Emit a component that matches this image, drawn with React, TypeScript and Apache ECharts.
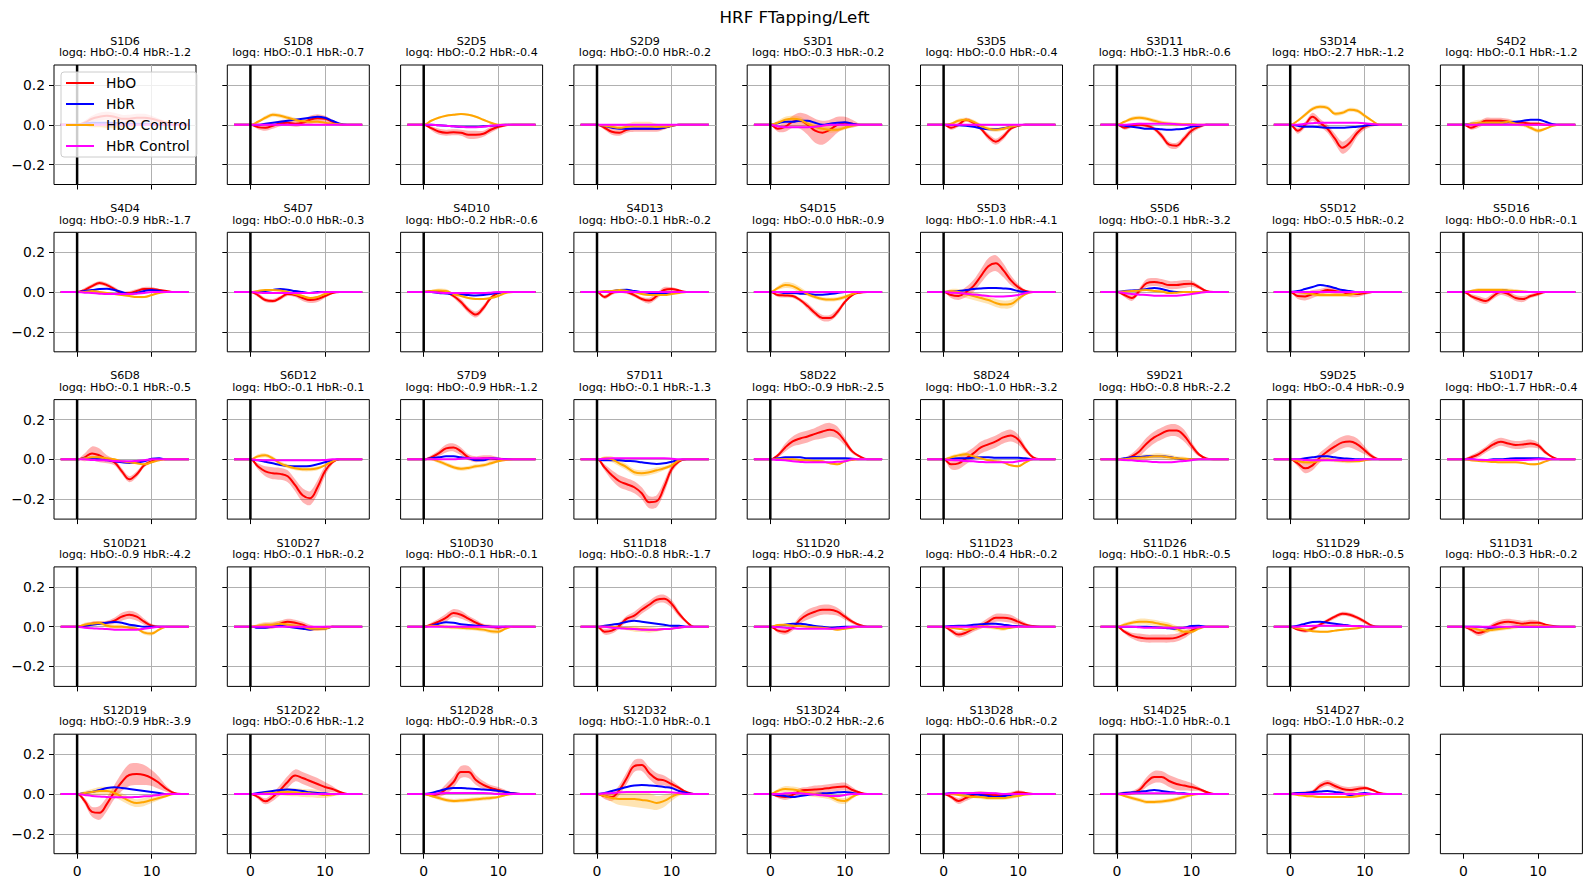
import React, { useEffect, useRef } from 'react';
import * as echarts from 'echarts';

// Time grid (s) shared by every channel trace
const T = [-2.2, -1, 0, 1, 2, 3, 4, 5, 6, 7, 8, 9, 10, 11, 12, 13, 14, 15];
// Amplitudes below are listed in hundredths of the y-axis unit
const UNIT = 0.01;

const CHANNELS = [
  'S1D6', 'S1D8', 'S2D5', 'S2D9', 'S3D1', 'S3D5', 'S3D11', 'S3D14', 'S4D2',
  'S4D4', 'S4D7', 'S4D10', 'S4D13', 'S4D15', 'S5D3', 'S5D6', 'S5D12', 'S5D16',
  'S6D8', 'S6D12', 'S7D9', 'S7D11', 'S8D22', 'S8D24', 'S9D21', 'S9D25', 'S10D17',
  'S10D21', 'S10D27', 'S10D30', 'S11D18', 'S11D20', 'S11D23', 'S11D26', 'S11D29', 'S11D31',
  'S12D19', 'S12D22', 'S12D28', 'S12D32', 'S13D24', 'S13D28', 'S14D25', 'S14D27',
];

const LOGQ_HBO = [
  '-0.4', '-0.1', '-0.2', '-0.0', '-0.3', '-0.0', '-1.3', '-2.7', '-0.1',
  '-0.9', '-0.0', '-0.2', '-0.1', '-0.0', '-1.0', '-0.1', '-0.5', '-0.0',
  '-0.1', '-0.1', '-0.9', '-0.1', '-0.9', '-1.0', '-0.8', '-0.4', '-1.7',
  '-0.9', '-0.1', '-0.1', '-0.8', '-0.9', '-0.4', '-0.1', '-0.8', '-0.3',
  '-0.9', '-0.6', '-0.9', '-1.0', '-0.2', '-0.6', '-1.0', '-1.0',
];
const LOGQ_HBR = [
  '-1.2', '-0.7', '-0.4', '-0.2', '-0.2', '-0.4', '-0.6', '-1.2', '-1.2',
  '-1.7', '-0.3', '-0.6', '-0.2', '-0.9', '-4.1', '-3.2', '-0.2', '-0.1',
  '-0.5', '-0.1', '-1.2', '-1.3', '-2.5', '-3.2', '-2.2', '-0.9', '-0.4',
  '-4.2', '-0.2', '-0.1', '-1.7', '-4.2', '-0.2', '-0.5', '-0.5', '-0.2',
  '-3.9', '-1.2', '-0.3', '-0.1', '-2.6', '-0.2', '-0.1', '-0.2',
];

const FLAT = [0, 0, 0, 0, 0, 0, 0, 0, 0, 0, 0, 0, 0, 0, 0, 0, 0, 0];

const HBO = [
  [0,0,0,1,3,4,4.5,4,3,3,3.5,3.5,3,2,1,0,0,0],
  [0,0,0,-1.2,-1.5,-0.5,0.8,1,0.5,1,2.5,3.3,3,1.5,0.3,0,0,0],
  [0,0,0,-1.7,-3.4,-4,-3.8,-4,-5,-5,-4.5,-2.5,-1,-0.2,0,0,0,0],
  [0,0,0,-1.5,-3.5,-4,-2.5,-2,-2,-2,-2,-1.5,-0.5,0,0,0,0,0],
  [0,0,0,-2,-1,1.5,2,0,-3,-4,-2.5,0,1,0.5,0,0,0,0],
  [0,0,0,-1.5,0,2.5,1,-2,-6,-8.5,-6,-2,-0.5,0,0,0,0,0],
  [0,0,0,-1.5,-0.5,0,-0.5,-2,-5.5,-10,-10.5,-7,-3,-1,0,0,0,0],
  [0,0,0,-3,0,4,1,-2,-7,-11.5,-9,-4,-1,0,0,0,0,0],
  [0,0,0,-1.5,0,2,2,2,1.5,1,1,0.5,0.5,0,0,0,0,0],
  [0,0,0,1,3,4.5,3.5,1.5,-0.5,-0.5,0.5,1.5,1.5,1,0.5,0,0,0],
  [0,0,0,-1.5,-4,-4.5,-3,-1,-1.5,-3,-4,-3.5,-2,-0.5,0,0,0,0],
  [0,0,0,0.5,0.5,0,-2,-5,-9,-11.3,-8,-3,-0.5,0,0,0,0,0],
  [0,0,0,-2.5,-0.5,0.5,0,-1.5,-3.5,-4.3,-2,1,1.5,0.8,0,0,0,0],
  [0,0,0,-1.5,-1.7,-2,-4,-7,-10.5,-13,-13,-10,-5,-1.5,-0.3,0,0,0],
  [0,0,0,-1.5,-2,0,3,8,13,14.5,11,6,2.5,0.5,0,0,0,0],
  [0,0,0,-1.5,-3,0.5,4.5,5,4.5,3.5,3.5,4,4.2,2.5,0.5,0,0,0],
  [0,0,0,-2,-2.2,-1,0,1,0.5,0,-1,-1,-0.5,0,0,0,0,0],
  [0,0,0,-2,-3.5,-4.5,-2,0,-1,-3,-3.5,-2,-1,0,0,0,0,0],
  [0,0,0,1,3,2,0,-1.5,-6,-10,-7.5,-3,-1,0,0,0,0,0],
  [0,0,0,-3.5,-6,-7,-7.3,-8.5,-13,-18,-19.5,-14,-6,-1.5,0,0,0,0],
  [0,0,0,1,3,5.5,6,4,1,0,0.5,0.5,0,0,0,0,0,0],
  [0,0,0,-4,-8,-11,-12.5,-14,-17,-21.5,-21,-14,-5,-1,0,0,0,0],
  [0,0,0,2,6,9,10.5,11.5,12.8,14,14.8,13.5,9,4,1.5,0,0,0],
  [0,0,0,-2.5,-2,0.5,3,6,7.5,9,11,12,10,5,1,0,0,0],
  [0,0,0,0,1.5,4,8,11,13,14.5,14.5,12,7,2.5,0.5,0,0,0],
  [0,0,0,-2,-4.5,-3,1,4,6.5,8.5,9,7.5,4.5,1.5,0,0,0,0],
  [0,0,0,1,2.5,5,7.5,8.8,8,7.2,7.5,8,7,3.5,1,0,0,0],
  [0,0,0,0.5,1.5,1.8,2,3,5,6,5,2.5,0.5,0,0,0,0,0],
  [0,0,0,0,0.3,0.5,1.5,2.5,2,1,-0.5,-1,-0.5,0,0,0,0,0],
  [0,0,0,1,2.5,4.5,6.8,6,4,2,0.5,0,-0.5,0,0,0,0,0],
  [0,0,0,-2.5,-2,0.5,4,5.5,8.5,11,13.5,14,11.5,6.5,2.5,0,0,0],
  [0,0,0,-2,-2.5,-0.5,3.5,6,7.5,8.5,8.5,7.5,5,2.5,0.8,0,0,0],
  [0,0,0,-2,-4,-3,-1,0.5,2.5,4.5,4.5,4,2.5,1,0.3,0,0,0],
  [0,0,0,-2.5,-4.5,-5.5,-6,-6,-6,-6,-5.5,-4,-2,-0.5,0,0,0,0],
  [0,0,0,-1.5,-2,-1,1,3,5,6.5,6,4.5,2.5,0.5,0,0,0,0],
  [0,0,0,-1.5,-3.2,-2,0.5,2,2.5,2,1.5,2,2,1,0.3,0,0,0],
  [0,0,0,-3.5,-9,-9.5,-5,1,6,9.5,10,9.5,8,5.5,2.5,0.5,0,0],
  [0,0,0,-1.5,-3.7,-1.5,2,6,9.3,8,6.5,5,3.5,2.5,1,0,0,0],
  [0,0,0,-0.5,0,2.5,6,11,11,7,4.5,3,2,1,0.3,0,0,0],
  [0,0,0,-1,-1.5,2,8,14,14.5,10.5,7.5,6.8,5,3,1,0,0,0],
  [0,0,0,-1,-1.5,-0.5,1.5,2,2.2,2.5,3,3.5,3.7,2,0.7,0,0,0],
  [0,0,0,-1.5,-3.5,-2,-0.5,0,-0.5,-0.5,-0.5,0,0.8,0.5,0,0,0,0],
  [0,0,0,0.3,0.5,2,6,8.5,8.5,6.5,5,4.2,3.5,2.5,1,0,0,0],
  [0,0,0,0.5,0.5,1,4,5.5,4,2.5,2,2.5,3,2,0.5,0,0,0],
];

const HBR = [
  [0,0,0,0.5,1,1,1,1,0.5,0.5,0.5,0.5,0.5,0,0,0,0,0],
  [0,0,0,0,0.5,1,1.5,2,2.5,3,3.5,4,3.5,2,0.5,0,0,0],
  [0,0,0,0,-0.3,-0.5,-0.8,-1,-1,-1,-0.8,-0.5,-0.2,0,0,0,0,0],
  [0,0,0,-0.5,-1.5,-2,-2,-2,-2,-2,-2,-1.5,-0.5,0,0,0,0,0],
  [0,0,0,0.8,1.5,1.5,2,2,1,0,0.5,1,1.2,0.5,0,0,0,0],
  [0,0,0,0,-0.3,-0.5,-1,-1.8,-2.2,-2.2,-1.8,-1,-0.3,0,0,0,0,0],
  [0,0,0,-0.5,-1,-1.5,-2,-2,-2.3,-2.5,-2.3,-2,-1,-0.5,0,0,0,0],
  [0,0,0,-0.5,-1,-1,-1.2,-1.5,-1.5,-1.5,-1.2,-1,-0.5,0,0,0,0,0],
  [0,0,0,0.5,0.5,0.5,0.5,1,1.2,1.5,2,2.5,2.5,1.5,0.3,0,0,0],
  [0,0,0,0.5,1,1.5,1.7,1,0,-1,-0.5,0.5,1,0.5,0,0,0,0],
  [0,0,0,0,0.5,1,1.5,1.2,0.5,0,-0.5,0,0,0,0,0,0,0],
  [0,0,0,0,-0.5,-0.7,-1,-1.2,-1.5,-1.7,-1.5,-1,-0.3,0,0,0,0,0],
  [0,0,0,0,0.5,1,1.2,0.5,0,-0.5,-1,-0.8,-0.3,0,0,0,0,0],
  [0,0,0,0,-0.5,-0.5,-0.8,-1,-1.3,-1.3,-1,-0.5,0,0,0,0,0,0],
  [0,0,0,0.3,0.5,1,1.5,1.8,2,2,1.8,1.5,0.5,0,0,0,0,0],
  [0,0,0,0.5,0.8,1,1.5,2,1.5,0.5,0,0,0,0,0,0,0,0],
  [0,0,0,0.5,1.5,2.5,3.5,3,2,1,0.5,0,0,0,0,0,0,0],
  [0,0,0,0,0.5,0.5,1,1,0.5,0,0,0,0,0,0,0,0,0],
  [0,0,0,0.5,0.3,0,-0.5,-1,-1.5,-1.8,-1.5,-1,0.3,0.5,0,0,0,0],
  [0,0,0,-0.5,-1.2,-2,-2.8,-3.3,-3.5,-3.5,-3.3,-2.5,-1.5,-0.5,0,0,0,0],
  [0,0,0,0.5,1,1.5,1.5,1,0.5,-0.5,-0.5,0.5,0.3,0,0,0,0,0],
  [0,0,0,-0.5,-0.5,-0.5,-0.8,-1,-1.5,-2,-2.3,-2,-1.2,-0.3,0,0,0,0],
  [0,0,0,0.5,1,1,1,0.5,0.5,0.5,0.5,0.5,0.5,0.3,0,0,0,0],
  [0,0,0,0.3,0.5,0.5,0.8,1,1,0.8,0.8,0.8,0.8,0.5,0,0,0,0],
  [0,0,0,0.5,1,1.2,1.5,1.5,1.5,1.2,0.5,0,0,0,0,0,0,0],
  [0,0,0,0,0.5,1,1.5,1.5,1,0.5,0.3,0,0,0,0,0,0,0],
  [0,0,0,0,-0.3,-0.3,0,0,0.3,0.5,0.5,0.5,0.5,0.3,0,0,0,0],
  [0,0,0,0.5,1,1.5,2,2.3,2,1,0.5,0,0,0,0,0,0,0],
  [0,0,0,-0.5,-0.5,0,0.5,0,-0.5,-1,-1.5,-1,-1,0,0,0,0,0],
  [0,0,0,0.5,1.5,2.2,2,1.2,0.8,0.5,0.3,0,0,0,0,0,0,0],
  [0,0,0,0.5,1,1.5,2.5,3,2.5,2,1.5,1,0.5,0.5,0,0,0,0],
  [0,0,0,0.5,1,1.5,1.5,1,0.3,0,-0.5,-0.3,0,0,0,0,0,0],
  [0,0,0,0.3,0.5,0.5,1,1.2,1.5,1.5,1,0.5,0.3,0,0,0,0,0],
  [0,0,0,0,0,0,0,-0.3,-0.5,-0.8,-1,-0.5,0.3,0.5,0,0,0,0],
  [0,0,0,0.5,1.5,2.3,2.5,2,1.5,1,0.5,0.3,0,0,0,0,0,0],
  [0,0,0,0,0,-0.3,-0.5,-0.5,-0.3,0,0,0,0,0,0,0,0,0],
  [0,0,0,0.5,1,2,3,3.4,3,2.5,2,1.5,1,0.5,0,0,0,0],
  [0,0,0,0.5,1,1.5,2,2.2,2,1.5,0.8,0.5,0.3,0,0,0,0,0],
  [0,0,0,0.5,1.5,2.5,3,3,2.7,2.5,2.2,2,1.5,1,0.3,0,0,0],
  [0,0,0,0.5,1.5,2.5,3.5,4.2,4.5,4.3,4,3.5,3,1.5,0.5,0,0,0],
  [0,0,0,-0.5,-1,-1.5,-1,-0.5,0,0.3,0.5,0.8,1,0.5,0,0,0,0],
  [0,0,0,0.5,0.5,0.3,0,-0.5,-1,-1.5,-1.2,-0.5,0,0,0,0,0,0],
  [0,0,0,0.5,0.8,1,1.5,2,1.5,1,0.5,0.3,0,0,0,0,0,0],
  [0,0,0,0.5,0.5,1,1.2,1.5,1,0.5,-0.5,0,0.5,0,0,0,0,0],
];

const HBO_CTRL = [
  [0,0,0,0,-0.5,-0.5,-1,-1,-0.5,-0.5,0,0,0,0,0,0,0,0],
  [0,0,0,1.5,3.5,5,4.5,3.5,2.5,1.7,1.5,1.5,1,0.5,0.2,0,0,0],
  [0,0,0,2,3.5,4.5,5,5.4,5,4,2.5,1,0,0,0,0,0,0],
  [0,0,0,-0.5,-1,-1.5,-1,-0.5,-0.5,-0.5,-1,-1,-0.5,0,0,0,0,0],
  [0,0,0,1,2.5,3,2.5,0.5,-1,-2,-2.5,-2.5,-1.5,-0.5,0,0,0,0],
  [0,0,0,0.5,2,2.5,1.5,-0.5,-2,-2.5,-2,-1,-0.3,0,0,0,0,0],
  [0,0,0,1.5,3,3.5,3,2,1,0.5,0.3,0.3,0.3,0,0,0,0,0],
  [0,0,0,2,5,8,9,8.5,5.5,6,7.5,7,4.5,2,0,0,0,0],
  [0,0,0,0.5,1,1,1,1,1.5,0.5,0,-1.5,-3,-2,-0.5,0,0,0],
  [0,0,0,0,0.5,0,-0.5,-1,-1.5,-2,-2.5,-2.5,-1.5,-0.5,0,0,0,0],
  [0,0,0,0.5,1,1,0.8,0,-1,-2,-3,-2.5,-1,0,0,0,0,0],
  [0,0,0,0.5,0.8,0.5,-1,-2,-3,-3.5,-3.5,-3,-2,-0.5,0,0,0,0],
  [0,0,0,0.5,0.5,1,0.5,0,-1,-1.5,-1.5,-1.5,-1,-0.5,0,0,0,0],
  [0,0,0,2,3.5,3,1,-1,-2.5,-3.5,-3.8,-3.5,-2.5,-1,0,0,0,0],
  [0,0,0,0.5,0,-1,-2,-3,-4,-5.5,-6.3,-6,-3.5,-1,0,0,0,0],
  [0,0,0,0.3,0.5,0.8,1,0.5,0.3,-0.5,-0.3,0,0,0,0,0,0,0],
  [0,0,0,0,-0.5,-1,-1.5,-1.5,-1.5,-1.5,-1.2,-0.5,0,0,0,0,0,0],
  [0,0,0,0.5,1,1,1,1,0.8,0.5,0.3,0,0,0,0,0,0,0],
  [0,0,0,0.5,1,1,0.5,0,-1,-1.5,-2,-2.5,-1.5,-0.5,0,0,0,0],
  [0,0,0,1.5,2,0.5,-2,-3.5,-4.5,-5,-5,-4.5,-3,-1,0,0,0,0],
  [0,0,0,0,-1,-2.5,-4,-4.7,-4.3,-3.5,-3,-2,-1,-0.3,0,0,0,0],
  [0,0,0,0.5,0,-2,-4,-6.5,-7,-6.5,-5.5,-4.5,-3,-0.5,0,0,0,0],
  [0,0,0,0,0,0,-0.3,-0.5,-0.8,-1,-2,-2.5,-1,-0.3,0,0,0,0],
  [0,0,0,1,2,2.5,1.5,0.5,-0.5,-1,-1.5,-3,-3.5,-1.5,0,0,0,0],
  [0,0,0,0,0.5,0.8,1,1.5,1.5,1,0.5,0.3,0,0,0,0,0,0],
  [0,0,0,-0.8,-1.5,-1.5,-0.5,0,-0.5,-0.8,-1,-1,-0.5,0,0,0,0,0],
  [0,0,0,-0.5,-0.8,-1,-1.3,-1.5,-1.5,-1.5,-1.8,-2.5,-2.3,-1,0,0,0,0],
  [0,0,0,1,1.5,1.8,0.5,0,0,-0.5,-1,-3,-3.5,-1.5,0,0,0,0],
  [0,0,0,0.5,0.8,1,1.5,1,0.5,0,-1,-1,-1,0,0,0,0,0],
  [0,0,0,0.5,0.3,0,-0.3,-0.5,-0.8,-1,-1.5,-2.3,-2.5,-1,0,0,0,0],
  [0,0,0,0,0,-0.5,-0.8,-1,-1.2,-1.5,-1.5,-1.2,-1,-0.5,0,0,0,0],
  [0,0,0,0.8,1,0.5,0.3,0,-0.3,-0.5,-1,-1.5,-1,-0.5,0,0,0,0],
  [0,0,0,-0.5,-1,-1.5,-1,0.3,0,-0.5,-1,-0.5,0,0,0,0,0,0],
  [0,0,0,1,2,2.5,2.5,2,1.2,0.5,-1,-2.5,-2.5,-1,0,0,0,0],
  [0,0,0,-0.8,-1.5,-2.3,-2.5,-2.5,-2,-1.5,-1.2,-0.8,0,0,0,0,0,0],
  [0,0,0,-0.5,-1.5,-2,-1.5,-1,-0.5,0,0.5,0.5,0.5,0.3,0,0,0,0],
  [0,0,0,0.5,1,1.5,1.5,0.5,-1.5,-3.5,-4.6,-4,-3,-2,-1,0,0,0],
  [0,0,0,0,0.3,0.5,0.8,1,0.8,0.5,0.3,0,-0.5,-0.3,0,0,0,0],
  [0,0,0,-1,-2,-3,-3.5,-3.3,-3,-2.7,-2.3,-2,-1.5,-0.5,0,0,0,0],
  [0,0,0,-1,-2,-2.5,-2.5,-2.5,-3,-3.5,-4.5,-3.5,-1.5,0,0,0,0,0],
  [0,0,0,1.5,2.5,2.2,1.5,0.5,0,-0.5,-1.3,-3,-3.5,-1.5,0,0,0,0],
  [0,0,0,0,-0.5,-1,-1.5,-1.5,-2,-2,-2,-1.5,-1,-0.3,0,0,0,0],
  [0,0,0,-1,-2,-3,-4,-4,-3.8,-3.3,-2.5,-1.5,-0.5,0,0,0,0,0],
  [0,0,0,-0.5,-1,-1.2,-1.5,-1.5,-1.5,-1.5,-1.5,-1.2,-0.5,0,0,0,0,0],
];

const HBR_CTRL = [
  FLAT,
  FLAT,
  [0,0,0,0,-0.3,-0.5,-0.8,-1,-1.2,-1.2,-1,-0.5,-0.2,0,0,0,0,0],
  FLAT,
  [0,0,0,-0.8,-1.2,-1.2,-1.2,-1.2,-1,-0.5,0,0,0,0,0,0,0,0],
  FLAT,
  [0,0,0,0,0.3,0.5,0.5,0.5,0.5,0.5,0.3,0,0,0,0,0,0,0],
  [0,0,0,0,0.5,0.8,1,1,1,1,1,1,0.8,0.3,0,0,0,0],
  FLAT,
  [0,0,0,-0.3,-0.5,-0.8,-1,-1,-1,-1,-0.8,-0.5,0,0,0,0,0,0],
  [0,0,0,-0.3,-0.5,-0.5,-0.5,-0.5,-0.5,-0.5,-0.5,-0.3,0,0,0,0,0,0],
  [0,0,0,0,-0.3,-0.5,-0.5,-0.5,-0.5,-0.5,-0.5,-0.3,0,0,0,0,0,0],
  FLAT,
  FLAT,
  [0,0,0,-0.3,-0.5,-0.8,-1.2,-1.6,-2,-2.2,-2.2,-2,-1.5,-0.5,0,0,0,0],
  [0,0,0,-0.5,-1,-1.3,-1.5,-1.8,-1.8,-1.8,-1.8,-1.5,-1,-0.5,0,0,0,0],
  FLAT,
  FLAT,
  [0,0,0,0,-0.3,-0.5,-0.5,-0.8,-1,-1,-0.8,-0.5,0,0,0,0,0,0],
  [0,0,0,-0.3,-0.5,-0.5,-0.5,-0.5,-0.5,-0.5,-0.5,-0.5,-0.3,0,0,0,0,0],
  [0,0,0,0,0,0,0,0.3,0.5,0.5,0.5,0.5,0.3,0,0,0,0,0],
  [0,0,0,0.3,0.5,0.5,0.5,0.5,0.5,0.5,0.5,0.5,0.3,0,0,0,0,0],
  [0,0,0,-0.3,-0.5,-1,-1.3,-1.5,-1.5,-1.5,-1.5,-1.2,-1,0,0,0,0,0],
  [0,0,0,-0.3,-0.5,-0.8,-1,-1.3,-1.5,-1.5,-1.5,-1.5,-1,-0.5,0,0,0,0],
  [0,0,0,-0.3,-0.5,-0.8,-1,-1.3,-1.5,-1.5,-1.2,-0.8,-0.5,0,0,0,0,0],
  [0,0,0,0,-0.3,-0.5,-0.5,-0.5,-0.5,-0.5,-0.5,-0.3,0,0,0,0,0,0],
  [0,0,0,0,-0.2,-0.3,-0.3,-0.3,-0.3,-0.3,-0.3,-0.2,0,0,0,0,0,0],
  [0,0,0,-0.5,-0.8,-1,-1.2,-1.5,-1.5,-1.5,-1.5,-1,-0.5,0,0,0,0,0],
  FLAT,
  FLAT,
  [0,0,0,0,-0.5,-0.8,-1,-1.2,-1.5,-1.5,-1.5,-1.2,-1,-0.5,0,0,0,0],
  [0,0,0,-0.3,-0.5,-0.8,-1,-1,-1,-1,-1,-0.8,-0.5,0,0,0,0,0],
  FLAT,
  [0,0,0,0,0,-0.3,-0.5,-0.5,-0.5,-0.5,-0.5,-0.5,-0.5,-0.3,0,0,0,0],
  [0,0,0,0,0.3,0.5,0.5,0.5,0.5,0.5,0.3,0.3,0,0,0,0,0,0],
  FLAT,
  [0,0,0,-0.5,-1,-1.3,-1.5,-1.7,-1.7,-1.7,-1.5,-1.2,-1,-0.5,0,0,0,0],
  FLAT,
  [0,0,0,0,0.3,0.5,0.5,0.5,0.5,0.5,0.5,0.3,0,0,0,0,0,0],
  [0,0,0,0.3,0.5,0.8,1,1,1,1,1,1,0.8,0.5,0,0,0,0],
  [0,0,0,0,0.3,0.5,0.3,0,-0.3,-0.7,-1,-1,-0.5,0,0,0,0,0],
  [0,0,0,0.3,0.5,0.5,0.5,0.5,0.5,0.3,0,0,0,0,0,0,0,0],
  [0,0,0,0,0.3,0.3,0.3,0.3,0.3,0.3,0.3,0,0,0,0,0,0,0],
  FLAT,
];

// Half-width of the shaded spread around HbO
const HBO_SE = [
  [0,0,0,1,1.5,2,2,2,2,2,2,2,1.5,1,0.5,0,0,0],
  [0,0,0,1,1.5,1.5,1.5,1.5,1.5,1.5,2,2,1.5,1,0.5,0,0,0],
  [0,0,0,1,1.5,1.5,1.5,1.5,2,2,1.5,1.5,1,0.5,0,0,0,0],
  [0,0,0,1,1.5,1.5,1.5,1.5,1.5,1.5,1.5,1,0.5,0,0,0,0,0],
  [0,0,0,1.5,2.5,3,4,5,6,6,5,4,3,2,0.5,0,0,0],
  [0,0,0,1,1,1,1,1,1.5,1.5,1.5,1,0.5,0,0,0,0,0],
  [0,0,0,1,1,1,1,1,1.5,1.5,1.5,1.5,1.5,1,0.5,0,0,0],
  [0,0,0,1.5,1.5,2,2,2,2.5,3,3,2,1.5,1,0,0,0,0],
  [0,0,0,1,1.5,1.5,1.5,1.5,1.5,1,1,1,1,0.5,0,0,0,0],
  [0,0,0,1,1,1,1,1,1,1,1,1,1,0.5,0,0,0,0],
  [0,0,0,1,1,1,1,1,1,1.5,1.5,1.5,1,0.5,0,0,0,0],
  [0,0,0,0.5,0.5,0.5,1,1.5,1.5,1.5,1.5,1,0.5,0,0,0,0,0],
  [0,0,0,1,1,1,1,1,1,1.5,1.5,1.5,1,0.5,0,0,0,0],
  [0,0,0,1,1,1,1,1.5,1.5,1.5,1.5,1.5,1,0.5,0,0,0,0],
  [0,0,0,1.5,2,2.5,3,3.5,4,4,3.5,2.5,1.5,0.5,0,0,0,0],
  [0,0,0,1,1.5,1.5,2,2,2,2,2,2,1.5,1,0.5,0,0,0],
  [0,0,0,1.5,2,2,1.5,1.5,1.5,1.5,1.5,1.5,1,0.5,0,0,0,0],
  [0,0,0,1,1.5,1.5,1.5,1.5,1.5,1.5,1.5,1,1,0.5,0,0,0,0],
  [0,0,0,2,3.5,3.5,2,1.5,1.5,1.5,1.5,1,1,0.5,0,0,0,0],
  [0,0,0,1.5,2.5,3,3,3,3,3.5,3.5,3.5,2.5,1,0,0,0,0],
  [0,0,0,1,1.5,2,2,2,1.5,1.5,1.5,1.5,1,0.5,0,0,0,0],
  [0,0,0,1.5,2.5,3,3,3,3,3,3,3,2,1,0,0,0,0],
  [0,0,0,1,2,2.5,3,3,3,3.5,3.5,3,2,1,0.5,0,0,0],
  [0,0,0,2.5,3,3,3,3,3,3,3,3,2.5,1.5,0.5,0,0,0],
  [0,0,0,1,1.5,2.5,3,3,3,3,3,3,2,1,0,0,0,0],
  [0,0,0,1.5,2.5,2.5,2.5,2.5,3,3,3,3,2,1,0,0,0,0],
  [0,0,0,1,1.5,1.5,2,2,2,2,2,2,1.5,1,0.5,0,0,0],
  [0,0,0,1,1,1,1,1.5,2,2,2,1.5,1,0.5,0,0,0,0],
  [0,0,0,1,1.5,1.5,1.5,1.5,1.5,1.5,1.5,1,1,0.5,0,0,0,0],
  [0,0,0,1,1.5,2,2,2,1.5,1.5,1,1,1,0.5,0,0,0,0],
  [0,0,0,1.5,1.5,1.5,1.5,2,2,2,2,2,2,1.5,0.5,0,0,0],
  [0,0,0,1,1.5,1.5,2,2.5,2.5,2.5,2.5,2,1.5,1,0.5,0,0,0],
  [0,0,0,1,1.5,1.5,1.5,1.5,2,2,2,2,1.5,1,0,0,0,0],
  [0,0,0,1,1.5,2,2,2,2,2,2,2,1.5,0.5,0,0,0,0],
  [0,0,0,0.5,1,1,1,1,1,1,1,1,1,0.5,0,0,0,0],
  [0,0,0,1,1.5,1.5,1.5,1.5,1.5,1.5,1.5,1.5,1,0.5,0,0,0,0],
  [0,0,0,1.5,2.5,3.5,3.5,3.5,4.5,5.5,5.5,5,4,3,1.5,0.5,0,0],
  [0,0,0,1,1.5,2,2.5,3,3,3,3,3,2.5,1.5,0.5,0,0,0],
  [0,0,0,1,1.5,2.5,3,3,3,2.5,2,1.5,1.5,1,0,0,0,0],
  [0,0,0,1.5,2,2.5,3,3,3,3,3,2.5,2,1,0.5,0,0,0],
  [0,0,0,1,1.5,1.5,1.5,1.5,2,2,2,2,2,1.5,0.5,0,0,0],
  [0,0,0,1,1.5,1.5,1.5,1.5,1.5,1.5,1,1,1,0.5,0,0,0,0],
  [0,0,0,1,1,1.5,2.5,3,3,3,3,2.5,2,1,0.5,0,0,0],
  [0,0,0,0.5,1,1,1.5,1.5,1.5,1.5,1.5,1.5,1,0.5,0,0,0,0],
];

// Half-width of the shaded spread around HbO Control
const HBO_CTRL_SE = [
  [0,0,0,0.5,1,1,1,1,1,1,0.5,0.5,0.5,0,0,0,0,0],
  [0,0,0,0.5,1,1,1,1,1,1,1,1,0.5,0.5,0,0,0,0],
  [0,0,0,0.5,0.5,0.5,0.5,0.5,0.5,0.5,0.5,0.5,0.3,0,0,0,0,0],
  [0,0,0,0.5,1,1,1.5,2,2,2,1.5,1,0.5,0,0,0,0,0],
  [0,0,0,1,1.5,1.5,1.5,1.5,1.5,1.5,1.5,1,1,0.5,0,0,0,0],
  [0,0,0,0.5,1,1,1,1,1,1,1,1,0.5,0,0,0,0,0],
  [0,0,0,0.5,1,1,1,1,1,1,1,0.5,0.5,0,0,0,0,0],
  [0,0,0,0.5,1,1,1,1,1,1,1,1,1,0.5,0,0,0,0],
  [0,0,0,1,1.5,1.5,1.5,1.5,1,1,1,1,1,0.5,0,0,0,0],
  [0,0,0,0.5,0.5,0.5,0.5,0.5,0.5,0.5,0.5,0.5,0.5,0,0,0,0,0],
  [0,0,0,0.5,0.5,0.5,0.5,0.5,0.5,0.5,0.5,0.5,0.5,0,0,0,0,0],
  [0,0,0,0.5,1,1,0.5,0.5,0.5,0.5,0.5,0.5,0.5,0,0,0,0,0],
  [0,0,0,0.5,0.5,0.5,0.5,0.5,0.5,0.5,0.5,0.5,0.5,0,0,0,0,0],
  [0,0,0,1,1.5,1.5,1.5,1,1,1,1,1,1,0.5,0,0,0,0],
  [0,0,0,1,1.5,2,2,2,2,2,2,2,1.5,0.5,0,0,0,0],
  [0,0,0,0.5,0.5,0.5,0.5,0.5,0.5,0.5,0.5,0.5,0.5,0,0,0,0,0],
  [0,0,0,0.5,1,1,1,1,1,1,1,0.5,0.5,0,0,0,0,0],
  [0,0,0,0.5,1,1,1,1,1,1,0.5,0.5,0,0,0,0,0,0],
  [0,0,0,0.5,0.5,0.5,0.5,0.5,0.5,0.5,0.5,0.5,0.5,0,0,0,0,0],
  [0,0,0,1,1,1,1,1,1,1,1,1,0.5,0.5,0,0,0,0],
  [0,0,0,0.5,1,1,1,1,1,1,1,1,0.5,0,0,0,0,0],
  [0,0,0,1,1.5,1.5,1.5,1.5,1.5,1.5,1.5,1,1,0.5,0,0,0,0],
  [0,0,0,0.5,0.5,0.5,0.5,0.5,0.5,0.5,0.5,0.5,0.5,0,0,0,0,0],
  [0,0,0,1,1,1,0.5,0.5,0.5,0.5,0.5,0.5,0.5,0.5,0,0,0,0],
  [0,0,0,0.5,1,1.5,1.5,1.5,1.5,1.5,1,1,0.5,0,0,0,0,0],
  [0,0,0,0.5,1,1,1,1,1,1,1,0.5,0.5,0,0,0,0,0],
  [0,0,0,0.5,0.5,0.5,0.5,0.5,0.5,0.5,0.5,0.5,0.5,0,0,0,0,0],
  [0,0,0,1,1,1,1,1,1,0.5,0.5,1,1,0.5,0,0,0,0],
  [0,0,0,1,1.5,1.5,1.5,1.5,1.5,1.5,1,1,1,0.5,0,0,0,0],
  [0,0,0,0.5,1,1,1,1,1,1,1,1,1,0.5,0,0,0,0],
  [0,0,0,0.5,0.5,0.5,1,1.5,1.5,1.5,1,0.5,0.5,0,0,0,0,0],
  [0,0,0,0.5,0.5,0.5,0.5,0.5,0.5,0.5,0.5,0.5,0.5,0,0,0,0,0],
  [0,0,0,0.5,0.5,0.5,1,1,1,1,1,0.5,0.5,0,0,0,0,0],
  [0,0,0,1,1,1.5,1.5,1.5,1.5,1.5,1.5,1.5,1,0.5,0,0,0,0],
  [0,0,0,0.5,0.5,0.5,0.5,0.5,0.5,0.5,0.5,0.5,0.5,0,0,0,0,0],
  [0,0,0,0.5,1,1,1,1,1,1,0.5,0.5,0.5,0,0,0,0,0],
  [0,0,0,1,1.5,2,2,2,2,2,2,2,1.5,1,0.5,0,0,0],
  [0,0,0,0.5,1,1,1.5,2,2,2,2,2,1.5,1,0,0,0,0],
  [0,0,0,0.5,1,1,1,1,1,1,1,1,0.5,0.5,0,0,0,0],
  [0,0,0,1,2,3,3.5,4,4,4,3.5,3,2,1,0,0,0,0],
  [0,0,0,1,1.5,1.5,1.5,1.5,1.5,1.5,1.5,1.5,1.5,1,0,0,0,0],
  [0,0,0,0.5,0.5,0.5,0.5,1,1,1,1,1,0.5,0.5,0,0,0,0],
  [0,0,0,0.5,1,1,1,1,1,1,1,1,0.5,0,0,0,0,0],
  [0,0,0,0.5,0.5,0.5,0.5,0.5,0.5,0.5,0.5,0.5,0.5,0,0,0,0,0],
];

const X_TICKS = [0, 10];
const Y_TICKS = [-0.2, 0, 0.2];
const LEGEND_NAMES = ['HbO', 'HbR', 'HbO Control', 'HbR Control'];
const SUPTITLE = 'HRF FTapping/Left';

const FONT = '"DejaVu Sans", "Liberation Sans", sans-serif';
const COLOR_HBO = '#ff0000';
const COLOR_HBR = '#0000ff';
const COLOR_HBO_CTRL = '#ffa500';
const COLOR_HBR_CTRL = '#ff00ff';
const FILL_HBO = 'rgba(255,0,0,0.3)';
const FILL_HBO_CTRL = 'rgba(255,165,0,0.3)';

// Panel layout (pixels)
const N_COLS = 9;
const N_PANELS = 45;
const AX_LEFT = 54;
const AX_TOP = 65;
const COL_STEP = 173.3;
const ROW_STEP = 167.3;
const AX_W = 142;
const AX_H = 119.5;
const X_MIN = -3.1;
const X_MAX = 15.95;
const Y_MIN = -0.3;
const Y_MAX = 0.3;
const SMOOTH = 0.4;

function fmtY(v: number): string {
  const s = Math.abs(v).toFixed(1);
  return v < -1e-9 ? '\u2212' + s : s;
}

function lineSeries(idx: number, name: string, color: string, values: number[]) {
  return {
    type: 'line',
    name,
    xAxisIndex: idx,
    yAxisIndex: idx,
    data: T.map((t, j) => [t, values[j] * UNIT]),
    smooth: SMOOTH,
    showSymbol: false,
    symbol: 'none',
    color,
    itemStyle: { color },
    lineStyle: { color, width: 2 },
    silent: true,
    z: 2,
  };
}

function bandSeries(idx: number, name: string, fill: string, center: number[], half: number[]) {
  const data = T.map((t, j) => [t, (center[j] - half[j]) * UNIT, (center[j] + half[j]) * UNIT]);
  return {
    type: 'custom',
    name,
    xAxisIndex: idx,
    yAxisIndex: idx,
    silent: true,
    z: 1,
    data,
    encode: { x: 0, y: [1, 2] },
    renderItem: (params: any, api: any) => {
      if (params.dataIndex !== 0) return null;
      const n = data.length;
      const pts: number[][] = [];
      for (let j = 0; j < n; j++) pts.push(api.coord([api.value(0, j), api.value(2, j)]));
      for (let j = n - 1; j >= 0; j--) pts.push(api.coord([api.value(0, j), api.value(1, j)]));
      return {
        type: 'polygon',
        shape: { points: pts, smooth: 0.3 },
        style: { fill, stroke: 'none' },
      };
    },
  };
}

function buildOption() {
  const grid: any[] = [];
  const xAxis: any[] = [];
  const yAxis: any[] = [];
  const series: any[] = [];
  const graphic: any[] = [
    {
      type: 'text',
      x: 794.5,
      y: 16.5,
      silent: true,
      style: { text: SUPTITLE, font: `16.7px ${FONT}`, fill: '#000', align: 'center', verticalAlign: 'middle' },
    },
  ];

  for (let i = 0; i < N_PANELS; i++) {
    const r = Math.floor(i / N_COLS);
    const c = i % N_COLS;
    const left = AX_LEFT + c * COL_STEP;
    const top = AX_TOP + r * ROW_STEP;
    const used = i < CHANNELS.length;
    const bottomRow = i >= N_PANELS - N_COLS;

    grid.push({
      left, top, width: AX_W, height: AX_H,
      show: true, borderColor: '#000', borderWidth: 1, backgroundColor: '#fff',
      containLabel: false, outerBoundsMode: 'none',
    });

    xAxis.push({
      type: 'value', gridIndex: i, min: X_MIN, max: X_MAX, position: 'bottom',
      axisLine: { show: false, onZero: false },
      axisTick: { show: true, inside: false, length: 5, customValues: X_TICKS, lineStyle: { color: '#000', width: 1 } },
      axisLabel: { show: bottomRow, customValues: X_TICKS, color: '#000', fontFamily: FONT, fontSize: 13.9, margin: 10,
        formatter: (v: number) => String(Math.round(v)) },
      splitLine: { show: used, lineStyle: { color: '#b0b0b0', width: 1 } },
    });

    yAxis.push({
      type: 'value', gridIndex: i, min: Y_MIN, max: Y_MAX, position: 'left',
      axisLine: { show: false, onZero: false },
      axisTick: { show: true, inside: false, length: 5, customValues: Y_TICKS, lineStyle: { color: '#000', width: 1 } },
      axisLabel: { show: c === 0, customValues: Y_TICKS, color: '#000', fontFamily: FONT, fontSize: 13.9, margin: 9, formatter: fmtY },
      splitLine: { show: used, lineStyle: { color: '#b0b0b0', width: 1 } },
    });

    if (!used) continue;

    const ch = CHANNELS[i];
    graphic.push({
      type: 'text', x: left + AX_W / 2, y: top - 23.9, silent: true,
      style: { text: ch, font: `11.1px ${FONT}`, fill: '#000', align: 'center', verticalAlign: 'middle' },
    });
    graphic.push({
      type: 'text', x: left + AX_W / 2, y: top - 12.3, silent: true,
      style: { text: `logq: HbO:${LOGQ_HBO[i]} HbR:${LOGQ_HBR[i]}`, font: `11.1px ${FONT}`, fill: '#000', align: 'center', verticalAlign: 'middle' },
    });

    series.push(bandSeries(i, `${ch} HbO spread`, FILL_HBO, HBO[i], HBO_SE[i]));
    series.push(bandSeries(i, `${ch} HbO Control spread`, FILL_HBO_CTRL, HBO_CTRL[i], HBO_CTRL_SE[i]));
    series.push(lineSeries(i, 'HbO', COLOR_HBO, HBO[i]));
    series.push(lineSeries(i, 'HbR', COLOR_HBR, HBR[i]));
    series.push(lineSeries(i, 'HbO Control', COLOR_HBO_CTRL, HBO_CTRL[i]));
    series.push(lineSeries(i, 'HbR Control', COLOR_HBR_CTRL, HBR_CTRL[i]));
    series.push({
      type: 'line',
      name: `${ch} onset`,
      xAxisIndex: i,
      yAxisIndex: i,
      data: [[0, Y_MIN], [0, Y_MAX]],
      showSymbol: false,
      symbol: 'none',
      silent: true,
      lineStyle: { color: '#000', width: 2.5 },
      z: 3,
    });
  }

  return {
    animation: false,
    backgroundColor: '#fff',
    grid,
    xAxis,
    yAxis,
    series,
    graphic,
    legend: {
      data: LEGEND_NAMES,
      orient: 'vertical',
      left: 61,
      top: 72,
      icon: 'path://M0,0h28v2h-28zM35,0h0.01v2h-0.01z',
      itemWidth: 35,
      itemHeight: 2,
      itemGap: 7,
      padding: [4, 6, 4, 5],
      backgroundColor: 'rgba(255,255,255,0.8)',
      borderColor: '#cccccc',
      borderWidth: 1,
      borderRadius: 3,
      selectedMode: false,
      textStyle: { fontFamily: FONT, fontSize: 13.9, color: '#000', lineHeight: 14 },
    },
  };
}

export default function App() {
  const ref = useRef<HTMLDivElement>(null);
  useEffect(() => {
    if (!ref.current) return;
    const chart = echarts.init(ref.current, undefined, { renderer: 'svg' });
    chart.setOption(buildOption() as any);
    return () => chart.dispose();
  }, []);
  return (
    <div
      ref={ref}
      style={{ position: 'fixed', left: 0, top: 0, width: 1589, height: 887, background: '#fff' }}
    />
  );
}
